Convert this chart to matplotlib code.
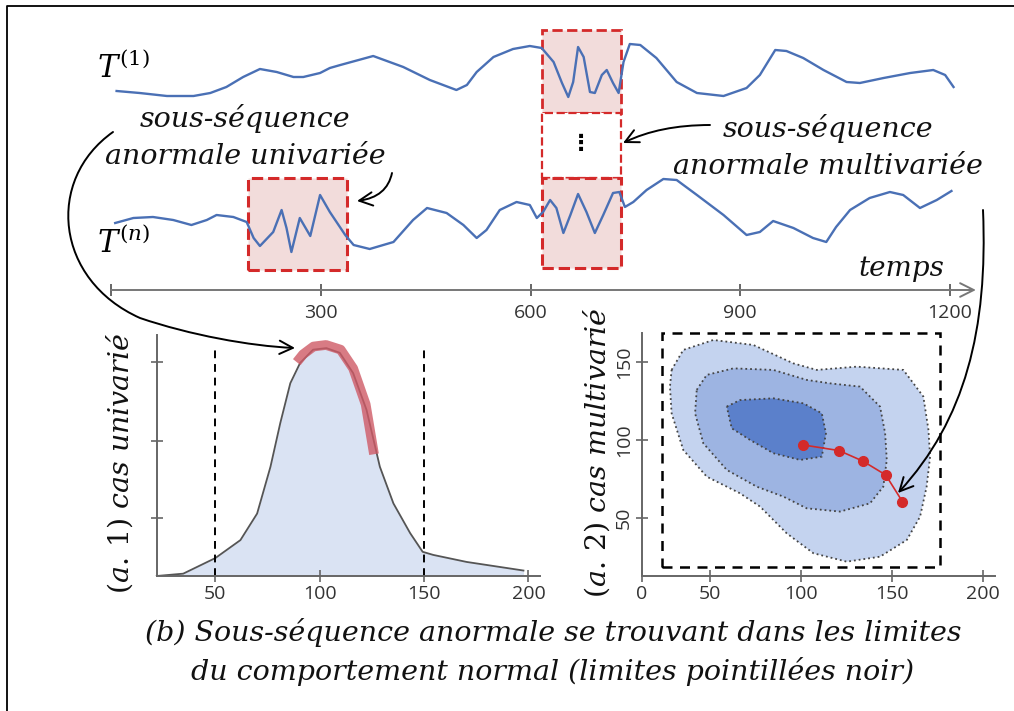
import numpy as np
import matplotlib
matplotlib.use("Agg")
import matplotlib.pyplot as plt
from matplotlib.patches import Rectangle, Polygon, FancyArrowPatch
from matplotlib.path import Path

# ---- top panel: two time series (time units, height above the time axis)
t1_time = [8, 41, 80, 118, 142, 165, 189, 213, 237, 261, 275, 299, 313, 328, 375, 418,
           456, 494, 509, 523, 547, 575, 599, 616, 633, 645, 654, 661, 668, 676, 685,
           692, 702, 709, 718, 726, 733, 742, 757, 780, 809, 838, 876, 909, 928, 950,
           966, 990, 1019, 1052, 1071, 1105, 1143, 1176, 1193, 1205]
t1_vals = [199, 197, 194, 194, 197, 203, 213, 221, 218, 213, 213, 217, 222, 225, 234, 223,
           210, 200, 205, 218, 233, 241, 244, 242, 228, 207, 193, 208, 243, 233, 198,
           197, 215, 220, 207, 197, 228, 246, 245, 232, 208, 197, 194, 202, 215, 240,
           239, 232, 220, 208, 207, 212, 217, 220, 215, 203]
tn_time = [6, 32, 60, 89, 115, 137, 151, 175, 194, 204, 213, 232, 244, 251, 258, 270, 285,
           299, 313, 335, 347, 370, 404, 432, 452, 480, 504, 523, 537, 556, 580, 599,
           609, 618, 628, 637, 647, 657, 668, 680, 692, 704, 718, 727, 735, 747, 766,
           790, 809, 838, 876, 909, 928, 947, 976, 1004, 1023, 1037, 1057, 1085, 1114,
           1133, 1157, 1181, 1202]
tn_vals = [67, 72, 73, 70, 65, 70, 75, 73, 68, 52, 44, 58, 80, 62, 38, 72, 54, 95, 78, 55,
           45, 41, 48, 70, 82, 77, 65, 52, 60, 80, 88, 85, 72, 78, 90, 82, 57, 75, 96, 78,
           57, 75, 97, 98, 83, 88, 100, 111, 110, 95, 75, 55, 58, 69, 62, 52, 48, 63, 80,
           92, 98, 95, 82, 90, 99]
time_ticks = [0, 300, 600, 900, 1200]
time_labels = ["", "300", "600", "900", "1200"]
uni_window = [196, 337]      # univariate anomaly (time)
multi_window = [616, 729]    # multivariate anomaly (time)

# ---- (a.1) univariate density
dens_x = [21.9, 34.6, 50, 62, 70, 76.4, 81.1, 85.9, 90.6, 96.8, 103.2, 109.6, 116,
          122.4, 128.8, 135.3, 143.3, 149.3, 154.4, 170.4, 197.6]
dens_y = [0, 0.03, 0.23, 0.46, 0.80, 1.40, 1.96, 2.47, 2.73, 2.90, 2.92, 2.86, 2.60,
          2.13, 1.40, 0.93, 0.55, 0.31, 0.27, 0.18, 0.07]
anom_x = [89, 92, 97, 103, 110, 116, 122, 126]
anom_y = [2.74, 2.84, 2.94, 2.96, 2.90, 2.66, 2.20, 1.56]
uni_limits = [50, 150]
uni_xticks = [50, 100, 150, 200]
uni_yticks = [0.74, 1.73, 2.74]

# ---- (a.2) multivariate density levels
outer_x = [28.9, 35.3, 51.8, 73.8, 95.8, 108.6, 130.6, 156.2, 167.2, 170.0, 170.9, 169.0,
           165.4, 158.1, 143.4, 125.1, 106.8, 92.1, 77.5, 66.5, 48.2, 35.3, 28.9, 28.0]
outer_y = [144.9, 157.7, 164.1, 160.9, 149.1, 144.9, 147.0, 144.9, 127.8, 106.4, 89.3, 70.1,
           50.9, 35.9, 25.2, 22.0, 27.4, 40.2, 57.3, 65.8, 76.5, 93.6, 117.1, 134.2]
middle_x = [42.7, 48.2, 62.8, 84.8, 103.1, 115.9, 132.4, 143.4, 146.2, 147.1, 145.2, 137.9,
            121.4, 103.1, 90.3, 75.6, 59.2, 46.3, 41.8]
middle_y = [132.1, 141.7, 145.9, 144.9, 138.5, 136.3, 134.2, 121.4, 104.3, 87.2, 70.1, 59.4,
            54.1, 56.2, 63.7, 70.1, 80.8, 97.9, 117.1]
inner_x = [59.2, 66.5, 84.8, 101.3, 111.4, 113.7, 111.4, 99.5, 84.8, 72.0, 61.9]
inner_y = [121.4, 125.6, 126.7, 123.5, 117.1, 104.3, 89.3, 87.2, 91.5, 100.0, 107.5]
traj_x = [101.3, 120.9, 133.9, 146.5, 155.7]
traj_y = [96.8, 93.2, 86.5, 77.6, 60.5]
multi_box = [23.6, 18.6, 176.4, 168.6]   # normal-behaviour limits
multi_xticks = [12.7, 50, 100, 150, 200]
multi_xlabels = ["0", "50", "100", "150", "200"]
multi_yticks = [50, 100, 150]

BLUE = "#4a70b5"
RED = "#d42a2a"
PINK = "#f2dcdb"
serif = dict(family="DejaVu Serif", style="italic", color="#111")
plt.rcParams["mathtext.fontset"] = "dejavuserif"
plt.rcParams["font.family"] = "Open Sans"

fig = plt.figure(figsize=(10.14, 7.11), dpi=100)

# time-series axes: x in time units, y in px above the time axis
ax = fig.add_axes([0, 0, 1, 1])
ax.set_xlim((0 - 111) / 0.6992, (1014 - 111) / 0.6992)
ax.set_ylim(290 - 711, 290)
ax.axis("off")

ax.add_patch(Rectangle((uni_window[0], 20), uni_window[1] - uni_window[0], 92,
                       fc=PINK, ec=RED, ls="--", lw=2.2))
mw = multi_window[1] - multi_window[0]
ax.add_patch(Rectangle((multi_window[0], 177), mw, 83, fc=PINK, ec=RED, ls="--", lw=2))
ax.add_patch(Rectangle((multi_window[0], 112), mw, 65, fc="white", ec=RED, ls="--", lw=1.6))
ax.add_patch(Rectangle((multi_window[0], 22), mw, 90, fc=PINK, ec=RED, ls="--", lw=2.2))
ax.text(np.mean(multi_window), 146, "⋮", ha="center", va="center", fontsize=16,
        fontweight="bold", family="DejaVu Sans")

ax.plot(t1_time, t1_vals, color=BLUE, lw=1.7, solid_joinstyle="round")
ax.plot(tn_time, tn_vals, color=BLUE, lw=1.7, solid_joinstyle="round")

ax.annotate("", xy=(1237, 0), xytext=(0, 0),
            arrowprops=dict(arrowstyle="->,head_length=0.7,head_width=0.35",
                            color="#777", lw=1.4, mutation_scale=14, shrinkA=0, shrinkB=0))
ax.plot(time_ticks, [0] * len(time_ticks), ls="none", marker="|", ms=9, mew=1.4,
        color="#666")
for t, lab in zip(time_ticks, time_labels):
    ax.text(t, -23, lab, ha="center", va="center", fontsize=14, color="#333")
ax.text(1130, 21, "temps", ha="center", va="center", fontsize=20, **serif)

# (a.1) univariate case
ax1 = fig.add_axes([111 / 1014, 135 / 711, 449 / 1014, 256 / 711])
ax1.set_xlim(0, 215.1)
ax1.set_ylim(0, 3.28)
ax1.patch.set_visible(False)
ax1.fill_between(dens_x, dens_y, color="#dae3f3", lw=0)
ax1.plot(dens_x, dens_y, color="#555", lw=1.3, solid_joinstyle="round")
ax1.plot(anom_x, anom_y, color="#cf5a66", alpha=0.8, lw=7, solid_capstyle="butt")
for x in uni_limits:
    ax1.plot([x, x], [0, 2.92], color="k", ls="--", dashes=(4, 3), lw=1.4)
ax1.spines[["top", "right"]].set_visible(False)
ax1.spines["left"].set_position(("data", 21.9))
ax1.spines["left"].set_bounds(0, 3.09)
ax1.spines["bottom"].set_bounds(21.9, 205.5)
ax1.set_xticks(uni_xticks)
ax1.set_yticks(uni_yticks, [])

# (a.2) multivariate case
ax2 = fig.add_axes([619 / 1014, 115 / 711, 381 / 1014, 276 / 711])
ax2.set_xlim(0, 209.3)
ax2.set_ylim(0, 176.9)
ax2.patch.set_visible(False)
for xs, ys, fc in [(outer_x, outer_y, "#c4d3ef"), (middle_x, middle_y, "#9db4e2"),
                   (inner_x, inner_y, "#5b80cb")]:
    ax2.add_patch(Polygon(np.column_stack([xs, ys]), closed=True, fc=fc, ec="#444",
                          ls=":", lw=1.3, joinstyle="round"))
ax2.add_patch(Rectangle((multi_box[0], multi_box[1]), multi_box[2] - multi_box[0],
                        multi_box[3] - multi_box[1], fill=False, ec="k",
                        ls=(0, (4, 3)), lw=1.8))
ax2.plot(traj_x, traj_y, color=RED, lw=1.2, marker="o", ms=7, zorder=5)
ax2.spines[["top", "right"]].set_visible(False)
ax2.spines["left"].set_position(("data", 12.7))
ax2.spines["left"].set_bounds(12.7, 168.6)
ax2.spines["bottom"].set_position(("data", 12.7))
ax2.spines["bottom"].set_bounds(12.7, 206.6)
ax2.set_xticks(multi_xticks, multi_xlabels)
ax2.set_yticks(multi_yticks)
for lab in ax2.get_yticklabels():
    lab.set_rotation(90)
    lab.set_va("center")

for a in (ax1, ax2):
    a.spines[["left", "bottom"]].set_color("#666")
    a.spines[["left", "bottom"]].set_linewidth(1.4)
    a.tick_params(direction="inout", length=9, width=1.2, color="#666",
                  labelcolor="#333", labelsize=14, pad=2)

# overlay in pixel coordinates for labels and annotation arrows
ov = fig.add_axes([0, 0, 1, 1])
ov.set_xlim(0, 1014)
ov.set_ylim(711, 0)
ov.axis("off")
ov.patch.set_visible(False)
ov.plot([7, 7, 1014], [711, 6, 6], color="k", lw=1.3)

ov.text(150, 68, r"$T^{(1)}$", ha="right", va="center", fontsize=22)
ov.text(150, 243, r"$T^{(n)}$", ha="right", va="center", fontsize=22)
ov.text(245, 137, "sous-séquence\nanormale univariée", ha="center", va="center",
        fontsize=20.5, linespacing=1.45, **serif)
ov.text(828, 147, "sous-séquence\nanormale multivariée", ha="center", va="center",
        fontsize=20.5, linespacing=1.45, **serif)
ov.text(120, 463, r"$(a.\,1)$ cas univarié", rotation=90, ha="center", va="center",
        fontsize=20.5, **serif)
ov.text(597, 453, r"$(a.\,2)$ cas multivarié", rotation=90, ha="center", va="center",
        fontsize=20.5, **serif)
ov.text(553, 652, "(b) Sous-séquence anormale se trouvant dans les limites\n"
        "du comportement normal (limites pointillées noir)", ha="center", va="center",
        fontsize=20.5, linespacing=1.45, **serif)

arrow_kw = dict(arrowstyle="->,head_length=0.6,head_width=0.3", mutation_scale=16,
                color="k", lw=1.4, transform=ov.transData)
M, C3, C4 = Path.MOVETO, Path.CURVE3, Path.CURVE4
paths = [
    Path([(113, 132), (45, 180), (55, 280), (140, 318), (190, 335), (250, 346), (295, 348)],
         [M, C4, C4, C4, C4, C4, C4]),
    Path([(983, 210), (988, 330), (965, 420), (898, 493)], [M, C4, C4, C4]),
    Path([(392, 173), (387, 197), (357, 201)], [M, C3, C3]),
    Path([(710, 125), (660, 125), (623, 143)], [M, C3, C3]),
]
for p in paths:
    ov.add_patch(FancyArrowPatch(path=p, **arrow_kw))

fig.savefig("out.png", dpi=100)
